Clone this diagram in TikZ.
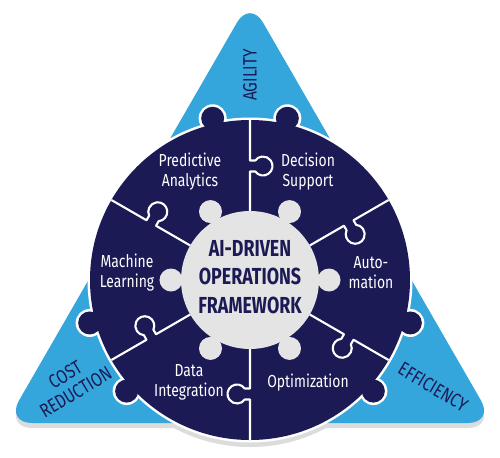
\documentclass[tikz,border=0pt]{standalone}
\usepackage{fontspec}
\setmainfont{Fira Sans}
\newfontfamily\etiqfont{Fira Sans}[FakeStretch=0.8]
\newfontfamily\titfont{Fira Sans}[FakeStretch=0.77]

\definecolor{marino}{HTML}{1B1A55}
\definecolor{celeste}{HTML}{35A6DC}
\definecolor{gris}{HTML}{E4E4E4}
\definecolor{sombra}{HTML}{DCDCDC}

\tikzset{
  etiqueta/.style={text=white, align=center, font=\etiqfont\fontsize{9.9}{11.4}\selectfont},
  lado/.style={text=marino, align=center, font=\etiqfont\fontsize{11}{11.6}\selectfont},
  divisor/.style={draw=white, line width=1.2pt, line join=round},
}

\begin{document}
\begin{tikzpicture}[x=0.02cm, y=0.02cm]
    \useasboundingbox (-250,-177) rectangle (250,280);

    % Sombras
    \fill[sombra, rounded corners=0.52cm] (-244,-148) -- (0,275) -- (244,-148) -- cycle;
    \fill[sombra] (0,-5) circle[radius=162];

    % Triangulo exterior
    \fill[celeste, rounded corners=0.52cm] (-244,-143) -- (0,280) -- (244,-143) -- cycle;

    % Borde blanco del rompecabezas
    \fill[white] (0,0) circle[radius=162.5];
    \foreach \k in {77,103,195,222,318,345}
      \fill[white] (\k:166) circle[radius=14];

    % Piezas
    \fill[marino] (0,0) circle[radius=160];
    \foreach \k in {77,103,195,222,318,345}
      \fill[marino] (\k:166) circle[radius=11.5];

    % Divisiones con pestanas
    \foreach \a in {30,90,...,330}
      \draw[divisor, rotate=\a] (69,0) -- (108.5,0) -- (108.5,-5.25)
        arc[start angle=125.4, end angle=414.6, radius=9.5] -- (119.5,0) -- (160,0);

    % Centro
    \fill[gris] (0,0) circle[radius=69];
    \foreach \k in {0,60,...,300}
      \fill[gris] (\k:79) circle[radius=11.5];

    % Etiquetas de las piezas
    \node[etiqueta] (prediccion) at (-60,108) {Predictive\\Analytics};
    \node[etiqueta] (decision) at (58,108) {Decision\\Support};
    \node[etiqueta] (aprendizaje) at (-123,7) {Machine\\Learning};
    \node[etiqueta] (automatizacion) at (121,7) {Auto-\\mation};
    \node[etiqueta] (integracion) at (-61,-102) {Data\\Integration};
    \node[etiqueta] (optimizacion) at (58,-103) {Optimization};

    % Titulo central
    \node[text=marino, align=center, font=\titfont\bfseries\fontsize{13.2}{16.2}\selectfont]
      (marco) at (0,3) {AI-DRIVEN\\OPERATIONS\\FRAMEWORK};

    % Lados del triangulo
    \node[lado, rotate=90] (agilidad) at (0,205) {AGILITY};
    \node[lado, rotate=31] (costo) at (-179.5,-103.5) {COST\\REDUCTION};
    \node[lado, rotate=-31] (eficiencia) at (183,-107) {EFFICIENCY};
  \end{tikzpicture}
\end{document}
